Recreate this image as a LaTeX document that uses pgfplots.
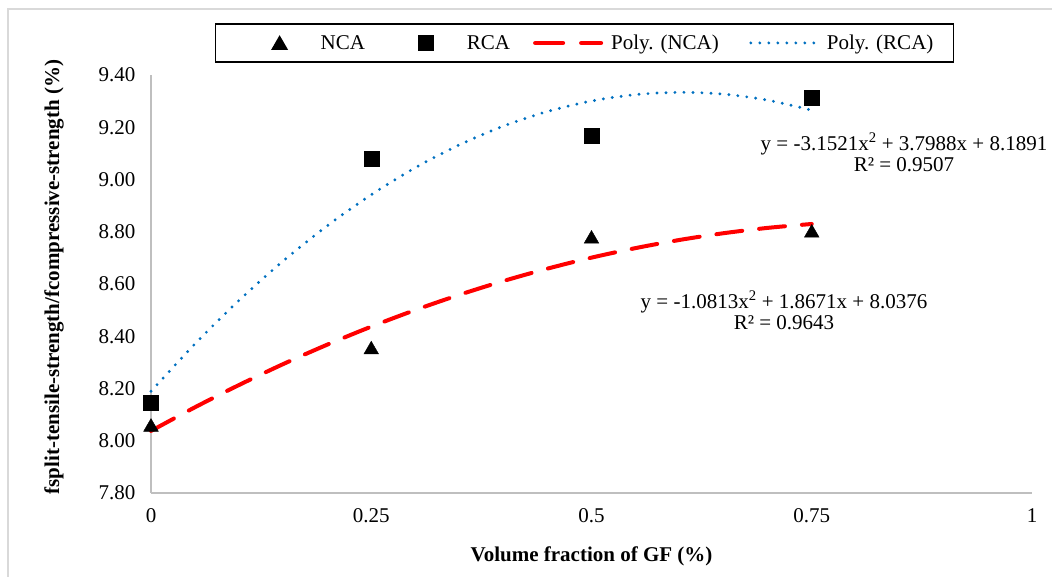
\documentclass[border=0pt]{standalone}
\usepackage{pgfplots}
\pgfplotsset{compat=1.18}
\usepackage{fontspec}
\setmainfont{Liberation Serif}
\definecolor{axgray}{RGB}{191,191,191}
\definecolor{frame}{RGB}{217,217,217}
\definecolor{polyblue}{RGB}{0,112,192}
\definecolor{polyred}{RGB}{255,0,0}
\newcommand{\chartfont}{\fontsize{21}{25}\selectfont}
\pgfplotsset{
  legtri/.style={legend image code/.code={\path[draw=none] (0pt,0pt) -- (105pt,0pt); \draw[##1] plot[only marks] coordinates {(64pt,0pt)};}},
  legsq/.style={legend image code/.code={\path[draw=none] (0pt,0pt) -- (102pt,0pt); \draw[##1] plot[only marks] coordinates {(61pt,0pt)};}},
  legred/.style={legend image code/.code={\path[draw=none] (0pt,0pt) -- (101pt,0pt); \draw[##1, dash pattern=on 28pt off 18pt] (25pt,0pt) -- (91pt,0pt);}},
  legblue/.style={legend image code/.code={\path[draw=none] (0pt,0pt) -- (108pt,0pt); \draw[##1] (32pt,0pt) -- (96pt,0pt);}},
}
\begin{document}
\begin{tikzpicture}
\path[use as bounding box] (0pt,0pt) rectangle (1052pt,577pt);
\draw[frame, line width=1.5pt] (8pt,-20pt) -- (8pt,568pt) -- (1080pt,568pt);
\begin{axis}[
  at={(151pt,84pt)}, anchor=south west,
  scale only axis, width=881pt, height=418pt,
  xmin=0, xmax=1, ymin=7.8, ymax=9.4,
  axis x line*=bottom, axis y line*=left,
  axis line style={draw=axgray, line width=1.6pt, -},
  xtick={0,0.25,0.5,0.75,1},
  xticklabels={0,0.25,0.5,0.75,1},
  ytick={7.8,8.0,8.2,8.4,8.6,8.8,9.0,9.2,9.4},
  yticklabels={7.80,8.00,8.20,8.40,8.60,8.80,9.00,9.20,9.40},
  major tick length=0pt,
  tick label style={font=\chartfont},
  xticklabel style={yshift=-12pt},
  yticklabel style={xshift=-12pt},
  xlabel={\textbf{Volume fraction of GF (\%)}},
  ylabel={\textbf{fsplit-tensile-strength/fcompressive-strength (\%)}},
  label style={font=\chartfont},
  xlabel style={at={(axis description cs:0.5,-0.151)}, anchor=center},
  ylabel style={at={(axis description cs:-0.110,0.5167)}, anchor=center},
  clip=false,
  legend columns=4,
  legend cell align=left,
  legend style={at={(0.0726,1.0766)}, anchor=west, draw=black, line width=1.3pt,
    font=\chartfont, inner xsep=0pt, inner ysep=8pt,
    nodes={inner xsep=0pt, inner ysep=3pt}},
]
\addplot[only marks, mark=triangle*, mark size=8.5pt, mark options={yshift=-2pt}, black, legtri]
  coordinates {(0,8.06) (0.25,8.356) (0.5,8.78) (0.75,8.803)};
\addlegendentry{NCA}
\addplot[only marks, mark=square*, mark size=7.5pt, black, legsq]
  coordinates {(0,8.144) (0.25,9.078) (0.5,9.166) (0.75,9.312)};
\addlegendentry{RCA}
\addplot[polyred, line width=4pt, line cap=round, dash pattern=on 26pt off 17pt, smooth, no marks, legred]
  coordinates {(0,8.0376) (0.05,8.1283) (0.1,8.2135) (0.15,8.2934) (0.2,8.3677) (0.25,8.4368)
   (0.3,8.5004) (0.35,8.5586) (0.4,8.6114) (0.45,8.6588) (0.5,8.7009) (0.55,8.7374)
   (0.6,8.7686) (0.65,8.7944) (0.7,8.8148) (0.75,8.8297)};
\addlegendentry{Poly. (NCA)}
\addplot[polyblue, line width=3.2pt, line cap=round, dash pattern=on 0pt off 9pt, smooth, no marks, legblue]
  coordinates {(0,8.1891) (0.05,8.3712) (0.1,8.5375) (0.15,8.6880) (0.2,8.8228) (0.25,8.9418)
   (0.3,9.0451) (0.35,9.1326) (0.4,9.2043) (0.45,9.2603) (0.5,9.3005) (0.55,9.3249)
   (0.6,9.3336) (0.65,9.3266) (0.7,9.3037) (0.75,9.2651)};
\addlegendentry{Poly. (RCA)\hspace*{20pt}}
\node[font=\chartfont, align=center, inner sep=0pt] at (axis cs:0.8547,9.1033)
  {y = -3.1521x\textsuperscript{2} + 3.7988x + 8.1891\\[-4pt] R² = 0.9507};
\node[font=\chartfont, align=center, inner sep=0pt] at (axis cs:0.7185,8.4985)
  {y = -1.0813x\textsuperscript{2} + 1.8671x + 8.0376\\[-4pt] R² = 0.9643};
\end{axis}
\end{tikzpicture}
\end{document}
